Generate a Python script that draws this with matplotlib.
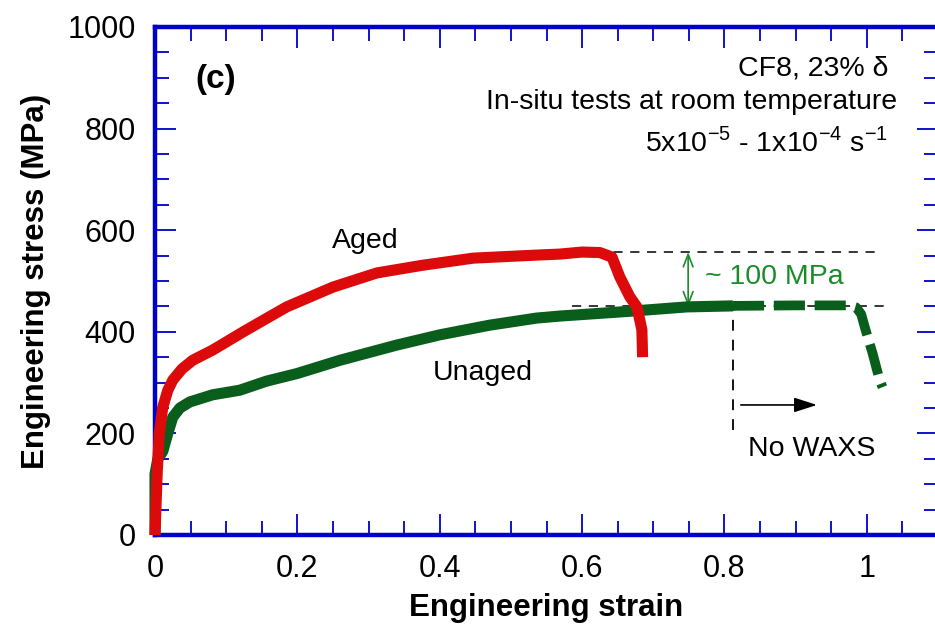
import matplotlib
matplotlib.use("Agg")
import matplotlib.pyplot as plt
from matplotlib.ticker import MultipleLocator

plt.rcParams['font.family'] = ['Liberation Sans', 'DejaVu Sans']
plt.rcParams['mathtext.fontset'] = 'custom'
plt.rcParams['mathtext.rm'] = 'Liberation Sans'

# Aged CF8: engineering strain / stress (MPa)
aged_strain = [0, 0.003, 0.006, 0.011, 0.018, 0.025, 0.038, 0.053, 0.081, 0.124,
               0.155, 0.185, 0.25, 0.312, 0.376, 0.447, 0.536, 0.569, 0.60, 0.625,
               0.642, 0.653, 0.667, 0.677, 0.684, 0.685]
aged_stress = [0, 120, 200, 252, 285, 305, 327, 344, 364, 400,
               425, 449, 488, 516, 531, 545, 551, 553, 557, 556,
               547, 508, 469, 449, 404, 350]

# Unaged CF8, portion covered by WAXS
unaged_strain = [0, 0.0, 0.004, 0.011, 0.018, 0.025, 0.035, 0.049, 0.081, 0.119,
                 0.157, 0.2, 0.26, 0.34, 0.4, 0.47, 0.536, 0.569, 0.663, 0.747, 0.812]
unaged_stress = [0, 120, 150, 165, 200, 232, 250, 262, 276, 285,
                 303, 318, 344, 374, 394, 413, 427, 431, 440, 449, 451]

# Unaged CF8, remainder of the test (no WAXS)
unaged_tail_strain = [0.812, 0.9, 0.975, 0.985, 0.992, 0.998, 1.008, 1.018, 1.022]
unaged_tail_stress = [451, 452, 452, 448, 435, 405, 358, 305, 291]

uts_aged = 557
uts_unaged = 450
waxs_limit = 0.812

red = '#dc0a0a'
green = '#0a5e1c'
agreen = '#1a8c2a'
blue = '#0000cc'

fig = plt.figure(figsize=(9.35, 6.27), dpi=100)
ax = fig.add_axes([155/935, 1-535/627, (938-155)/935, (535-27)/627])
ax.set_xlim(0, 1.1)
ax.set_ylim(0, 1000)

# reference lines
ax.plot([0.573, 1.014], [uts_aged, uts_aged], color='black', lw=1.1, ls=(0, (6, 5)), zorder=2)
ax.plot([0.586, 1.028], [uts_unaged, uts_unaged], color='black', lw=1.1, ls=(0, (6, 5)), zorder=2)
ax.plot([waxs_limit, waxs_limit], [207, uts_unaged], color='black', lw=1.3, ls=(0, (6, 5)), zorder=2)

ax.plot(unaged_strain, unaged_stress, color=green, lw=8, solid_capstyle='butt',
        solid_joinstyle='round', zorder=5, clip_on=False)
ax.plot(unaged_tail_strain, unaged_tail_stress, color=green, lw=7, ls=(0, (3.2, 1.0)),
        dash_capstyle='butt', dash_joinstyle='round', zorder=5, clip_on=False)
ax.plot(aged_strain, aged_stress, color=red, lw=8, solid_capstyle='butt',
        solid_joinstyle='round', zorder=6, clip_on=False)

# ~100 MPa double arrow
ax.annotate('', xy=(0.749, uts_aged), xytext=(0.749, uts_unaged),
            arrowprops=dict(arrowstyle='<->,head_length=0.9,head_width=0.35',
                            color=agreen, lw=1.2, shrinkA=0, shrinkB=0))
ax.text(0.772, 508, '~ 100 MPa', color=agreen, fontsize=20.5, ha='left', va='center')

# No WAXS arrow
ax.annotate('', xy=(0.93, 256), xytext=(0.823, 256),
            arrowprops=dict(arrowstyle='-|>,head_length=1.4,head_width=0.45',
                            color='black', lw=1.2, shrinkA=0, shrinkB=0))
ax.text(0.922, 170, 'No WAXS', fontsize=20.5, ha='center', va='center')

ax.text(0.296, 578, 'Aged', fontsize=20.5, ha='center', va='center')
ax.text(0.46, 319, 'Unaged', fontsize=20.5, ha='center', va='center')
ax.text(0.085, 896, '(c)', fontsize=24, fontweight='bold', ha='center', va='center')

ax.text(1.03, 918, 'CF8, 23% δ', fontsize=20.5, ha='right', va='center')
ax.text(1.042, 852, 'In-situ tests at room temperature', fontsize=20.5, ha='right', va='center')
ax.text(1.03, 773, r'5x10$^{\mathregular{-5}}$ - 1x10$^{\mathregular{-4}}$ s$^{\mathregular{-1}}$',
        fontsize=20.5, ha='right', va='center')

ax.xaxis.set_minor_locator(MultipleLocator(0.05))
ax.yaxis.set_minor_locator(MultipleLocator(50))
ax.set_xticks([0, 0.2, 0.4, 0.6, 0.8, 1.0])
ax.set_xticklabels(['0', '0.2', '0.4', '0.6', '0.8', '1'])
ax.set_yticks([0, 200, 400, 600, 800, 1000])
ax.set_yticklabels(['0', '200', '400', '600', '800', '1000'])

ax.tick_params(which='both', direction='in', top=True, right=True, color=blue,
               labelsize=22, labelcolor='black')
ax.tick_params(axis='x', which='both', pad=14)
ax.tick_params(axis='y', which='both', pad=14)
ax.tick_params(which='major', length=15, width=1.3)
ax.tick_params(which='minor', length=10, width=1.3)
for sp in ax.spines.values():
    sp.set_color(blue)
    sp.set_linewidth(3.2)

ax.set_xlabel('Engineering strain', fontsize=22.5, fontweight='bold', labelpad=6)
ax.set_ylabel('Engineering stress (MPa)', fontsize=22.5, fontweight='bold', labelpad=12)

fig.savefig('out.png', dpi=100)
